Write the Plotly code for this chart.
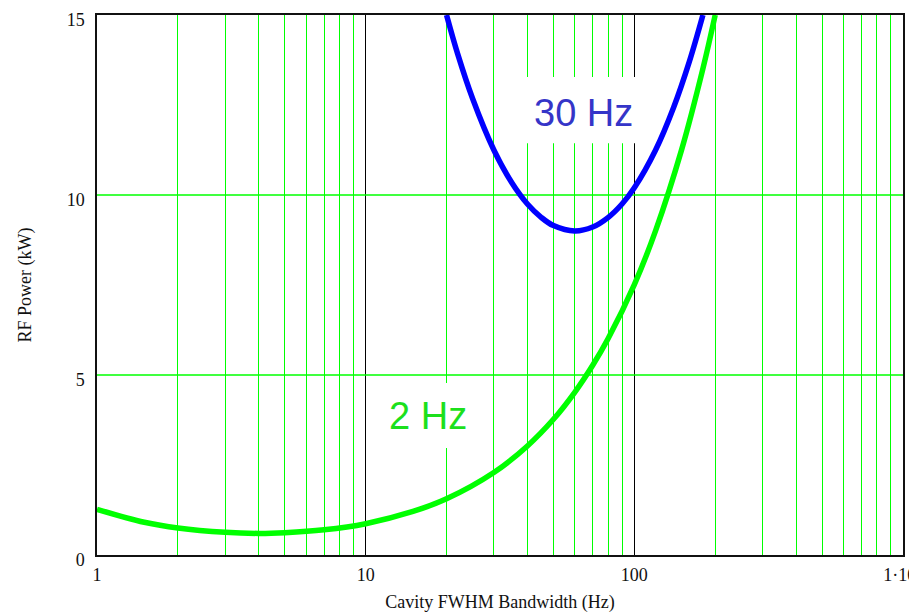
import plotly.graph_objects as go

# Cavity FWHM bandwidth (Hz) and RF power (kW)
bw_2hz = [1, 1.5, 2, 3, 4, 5, 7, 10, 15, 20, 30, 40, 50, 60, 70, 80, 100, 120, 150, 180, 200]
p_2hz = [1.27, 0.91, 0.75, 0.63, 0.60, 0.62, 0.70, 0.87, 1.21, 1.56, 2.29, 3.03, 3.77, 4.52,
         5.27, 6.02, 7.51, 9.01, 11.26, 13.51, 15.0]

bw_30hz = [20, 22, 25, 30, 35, 40, 45, 50, 60, 70, 80, 90, 100, 120, 140, 160, 180]
p_30hz = [15.0, 13.92, 12.68, 11.25, 10.34, 9.75, 9.38, 9.15, 9.0, 9.11, 9.38, 9.75, 10.2,
          11.25, 12.43, 13.69, 15.0]

x_ticks = [1, 10, 100, 1000]
x_ticktext = ["1", "10", "100", "1·10<sup>3</sup>"]
x_minor = [2, 3, 4, 5, 6, 7, 8, 9, 20, 30, 40, 50, 60, 70, 80, 90,
           200, 300, 400, 500, 600, 700, 800, 900]
y_ticks = [0, 5, 10, 15]

labels = ["30 Hz", "2 Hz"]

GREEN = "#00ff00"
BLUE = "#0000ff"
SERIF = "Liberation Serif, Times New Roman, serif"
SANS = "Liberation Sans, Arial, sans-serif"

fig = go.Figure()
fig.add_trace(go.Scatter(x=bw_2hz, y=p_2hz, mode="lines", line=dict(color=GREEN, width=5.5, shape="spline"),
                         showlegend=False, hoverinfo="skip"))
fig.add_trace(go.Scatter(x=bw_30hz, y=p_30hz, mode="lines", line=dict(color=BLUE, width=5.5, shape="spline"),
                         showlegend=False, hoverinfo="skip"))

# horizontal green gridlines at the inner y ticks
for yv in y_ticks[1:-1]:
    fig.add_shape(type="line", xref="x", yref="y", x0=x_ticks[0], x1=x_ticks[-1], y0=yv, y1=yv,
                  line=dict(color=GREEN, width=1.3), layer="between")

# white label boxes (between gridlines and traces)
fig.add_shape(type="rect", xref="x", yref="y", x0=30.4, x1=112.2, y0=11.44, y1=13.28,
              fillcolor="white", line=dict(width=0), layer="between")
fig.add_shape(type="rect", xref="x", yref="y", x0=10.2, x1=28.6, y0=2.97, y1=4.78,
              fillcolor="white", line=dict(width=0), layer="between")

fig.add_annotation(xref="paper", yref="paper", x=0.604, y=0.818, text=labels[0], showarrow=False,
                   font=dict(family=SANS, size=38, color="#3535C8"), xanchor="center", yanchor="middle")
fig.add_annotation(xref="paper", yref="paper", x=0.4107, y=0.257, text=labels[1], showarrow=False,
                   font=dict(family=SANS, size=38, color="#1CE01C"), xanchor="center", yanchor="middle")

fig.update_layout(
    template="none",
    width=909, height=607,
    margin=dict(l=89, r=14, t=7, b=60, autoexpand=False),
    paper_bgcolor="white", plot_bgcolor="white",
    showlegend=False,
    xaxis=dict(
        type="log", range=[0, 3], tickmode="array", tickvals=x_ticks, ticktext=x_ticktext,
        showgrid=True, gridcolor="#000000", gridwidth=1,
        minor=dict(tickmode="array", tickvals=x_minor, showgrid=True, gridcolor=GREEN, gridwidth=1, ticks=""),
        showline=True, linecolor="#111111", linewidth=1.5, mirror=True, ticks="",
        zeroline=False, automargin=False, ticklabeloverflow="allow",
        tickfont=dict(family=SERIF, size=18, color="#111111"), ticklabelstandoff=3,
        title=dict(text="Cavity FWHM Bandwidth (Hz)", font=dict(family=SERIF, size=18, color="#111111"),
                   standoff=11),
    ),
    yaxis=dict(
        range=[0, 15], tickmode="array", tickvals=y_ticks,
        showgrid=False,
        showline=True, linecolor="#111111", linewidth=1.5, mirror=True, ticks="",
        zeroline=False, automargin=False, ticklabelshift=5, ticklabeloverflow="allow",
        tickfont=dict(family=SERIF, size=18, color="#111111"), ticklabelstandoff=7,
        title=dict(text="RF Power (kW)", font=dict(family=SERIF, size=18, color="#111111"), standoff=30),
    ),
)

fig.write_html("out.html")
